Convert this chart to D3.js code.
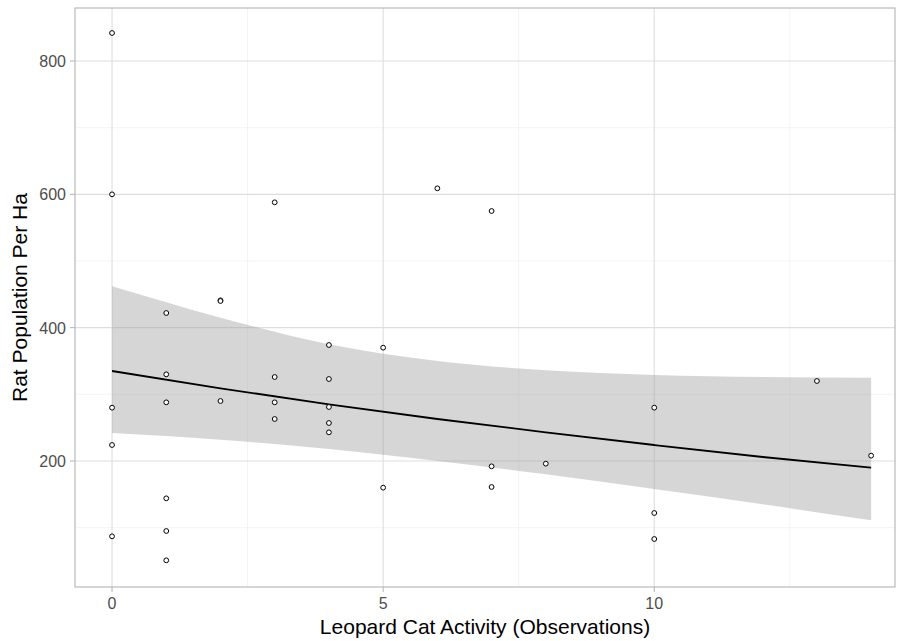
<!DOCTYPE html>
<html><head><meta charset="utf-8">
<script src="https://cdn.jsdelivr.net/npm/d3@7"></script>
<style>body{margin:0;background:#fff}text{font-family:"Helvetica Neue",Arial,"Liberation Sans",sans-serif}</style>
</head><body><svg id="c" width="897" height="641"></svg>
<script>
// observations
const catActivity = [0,0,0,0,0,1,1,1,1,1,1,2,2,2,3,3,3,3,4,4,4,4,4,5,5,6,7,7,7,8,10,10,10,13,14];
const ratDensity  = [842,600,280,224,87,422,330,288,144,95,51,441,440,290,588,326,288,263,374,323,281,257,243,370,160,609,575,192,161,196,280,122,83,320,208];

// fitted curve and confidence band
const fitX   = [0,2,4,6,8,10,12,14];
const fitY   = [335,309,285,263,243,224,206,190];
const upperY = [462,415,375,350,336,329,326,325];
const lowerY = [242,232,218,200,180,158,135,111];

const xTicks = [0,5,10], xMinor = [2.5,7.5,12.5];
const yTicks = [200,400,600,800], yMinor = [100,300,500,700];

const svg = d3.select('#c');
const m = {l:75, r:895, t:8, b:587};
const x = d3.scaleLinear().domain([-0.683,14.44]).range([m.l,m.r]);
const y = d3.scaleLinear().domain([11,879.5]).range([m.b,m.t]);

const g = svg.append('g');
g.selectAll('.vmin').data(xMinor).enter().append('line')
  .attr('x1',d=>x(d)).attr('x2',d=>x(d)).attr('y1',m.t).attr('y2',m.b)
  .attr('stroke','#ededed').attr('stroke-width',0.6);
g.selectAll('.hmin').data(yMinor).enter().append('line')
  .attr('y1',d=>y(d)).attr('y2',d=>y(d)).attr('x1',m.l).attr('x2',m.r)
  .attr('stroke','#ededed').attr('stroke-width',0.6);
g.selectAll('.vmaj').data(xTicks).enter().append('line')
  .attr('x1',d=>x(d)).attr('x2',d=>x(d)).attr('y1',m.t).attr('y2',m.b)
  .attr('stroke','#dedede').attr('stroke-width',1.1);
g.selectAll('.hmaj').data(yTicks).enter().append('line')
  .attr('y1',d=>y(d)).attr('y2',d=>y(d)).attr('x1',m.l).attr('x2',m.r)
  .attr('stroke','#dedede').attr('stroke-width',1.1);

const band = fitX.map((v,i)=>({x:v, lo:lowerY[i], hi:upperY[i], f:fitY[i]}));
svg.append('path').datum(band)
  .attr('d', d3.area().curve(d3.curveMonotoneX).x(d=>x(d.x)).y0(d=>y(d.lo)).y1(d=>y(d.hi)))
  .attr('fill','#999').attr('fill-opacity',0.4);
svg.append('path').datum(band)
  .attr('d', d3.line().curve(d3.curveMonotoneX).x(d=>x(d.x)).y(d=>y(d.f)))
  .attr('fill','none').attr('stroke','#000').attr('stroke-width',1.8);

svg.selectAll('.pt').data(catActivity).enter().append('circle')
  .attr('cx',d=>x(d)).attr('cy',(d,i)=>y(ratDensity[i])).attr('r',2.4)
  .attr('fill','#fff').attr('stroke','#000').attr('stroke-width',1);

svg.append('rect').attr('x',m.l).attr('y',m.t).attr('width',m.r-m.l).attr('height',m.b-m.t)
  .attr('fill','none').attr('stroke','#b3b3b3').attr('stroke-width',1.1);

svg.selectAll('.xt').data(xTicks).enter().append('line')
  .attr('x1',d=>x(d)).attr('x2',d=>x(d)).attr('y1',m.b).attr('y2',m.b+5).attr('stroke','#b3b3b3');
svg.selectAll('.yt').data(yTicks).enter().append('line')
  .attr('y1',d=>y(d)).attr('y2',d=>y(d)).attr('x1',m.l-5).attr('x2',m.l).attr('stroke','#b3b3b3');
svg.selectAll('.xl').data(xTicks).enter().append('text')
  .attr('x',d=>x(d)).attr('y',m.b+22).attr('text-anchor','middle')
  .attr('font-size',16).attr('fill','#4d4d4d').text(d=>d);
svg.selectAll('.yl').data(yTicks).enter().append('text')
  .attr('x',m.l-9).attr('y',d=>y(d)+6).attr('text-anchor','end')
  .attr('font-size',16).attr('fill','#4d4d4d').text(d=>d);

svg.append('text').attr('x',(m.l+m.r)/2).attr('y',634).attr('text-anchor','middle')
  .attr('font-size',21).text('Leopard Cat Activity (Observations)');
svg.append('text').attr('transform',`translate(27,${(m.t+m.b)/2}) rotate(-90)`)
  .attr('text-anchor','middle').attr('font-size',21).text('Rat Population Per Ha');
</script></body></html>
